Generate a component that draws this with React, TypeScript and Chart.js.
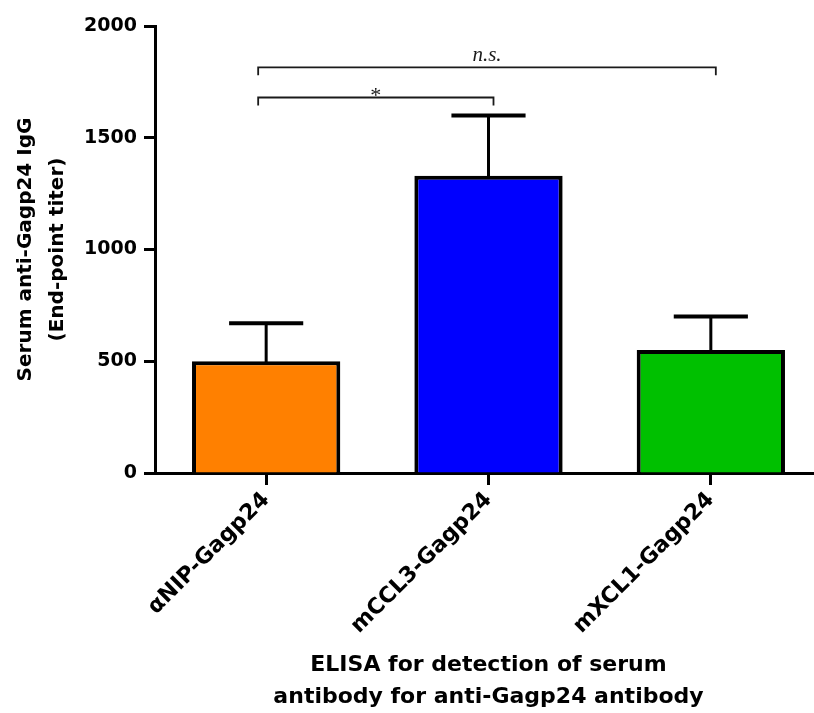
import React, { useEffect, useRef } from "react";
import { Chart, registerables } from "chart.js";
Chart.register(...registerables);

const categories = ["αNIP-Gagp24", "mCCL3-Gagp24", "mXCL1-Gagp24"];
const means = [500, 1330, 550];
const errorUpper = [670, 1600, 700];
const barColors = ["#FF8000", "#0000FF", "#00C000"];
const yMin = 0;
const yMax = 2000;
const yStep = 500;
const yTitle = ["Serum anti-Gagp24 IgG", "(End-point titer)"];
const xTitle = ["ELISA for detection of serum", "antibody for anti-Gagp24 antibody"];
const comparisonFrom = [0, 0];
const comparisonTo = [1, 2];
const comparisonLabels = ["*", "n.s."];
const comparisonLevels = [1680, 1815];

const FONT = "'DejaVu Sans', sans-serif";

const annotationPlugin = {
  id: "errorBarsAndBrackets",
  afterDatasetsDraw(chart: any) {
    const ctx = chart.ctx;
    const meta = chart.getDatasetMeta(0);
    const ys = chart.scales.y;
    const xs = chart.scales.x;
    ctx.save();
    ctx.strokeStyle = "#000";
    meta.data.forEach((bar: any, i: number) => {
      const x = bar.x;
      const top = ys.getPixelForValue(means[i]) + 2;
      const up = ys.getPixelForValue(errorUpper[i]);
      const half = bar.width / 4;
      ctx.lineWidth = 3;
      ctx.beginPath();
      ctx.moveTo(x, top);
      ctx.lineTo(x, up);
      ctx.stroke();
      ctx.lineWidth = 4;
      ctx.beginPath();
      ctx.moveTo(x - half, up);
      ctx.lineTo(x + half, up);
      ctx.stroke();
    });
    // significance brackets
    ctx.strokeStyle = "#1a1a1a";
    ctx.fillStyle = "#1a1a1a";
    ctx.lineWidth = 1.8;
    comparisonLabels.forEach((label, k) => {
      const x1 = xs.getPixelForValue(comparisonFrom[k]) - 8;
      const x2 = xs.getPixelForValue(comparisonTo[k]) + 5;
      const y = ys.getPixelForValue(comparisonLevels[k]);
      ctx.beginPath();
      ctx.moveTo(x1, y + 8);
      ctx.lineTo(x1, y);
      ctx.lineTo(x2, y);
      ctx.lineTo(x2, y + 8);
      ctx.stroke();
      ctx.textAlign = "center";
      ctx.textBaseline = "alphabetic";
      if (label === "*") {
        ctx.font = "22px 'Liberation Serif', serif";
        ctx.fillText(label, (x1 + x2) / 2, y + 4);
      } else {
        ctx.font = "italic 21px 'Liberation Serif', serif";
        ctx.fillText(label, (x1 + x2) / 2, y - 6);
      }
    });
    ctx.restore();
  },
};

export default function App() {
  const ref = useRef<HTMLCanvasElement>(null);
  useEffect(() => {
    if (!ref.current) return;
    const chart = new Chart(ref.current, {
      type: "bar",
      data: {
        labels: categories,
        datasets: [
          {
            data: means,
            backgroundColor: barColors,
            borderColor: "#000",
            borderWidth: 4,
            categoryPercentage: 1,
            barPercentage: 0.667,
          },
        ],
      },
      options: {
        animation: false,
        responsive: false,
        devicePixelRatio: 1,
        layout: { padding: { left: 0, right: 8, top: 26, bottom: 0 } },
        plugins: { legend: { display: false }, tooltip: { enabled: false } },
        scales: {
          x: {
            afterFit: (s: any) => {
              s.height = 240;
            },
            grid: {
              display: true,
              offset: false,
              drawOnChartArea: false,
              drawTicks: true,
              tickLength: 12,
              tickWidth: 3,
              tickColor: "#000",
            },
            border: { display: true, width: 3, color: "#000" },
            ticks: {
              autoSkip: false,
              maxRotation: 45,
              minRotation: 45,
              padding: 2,
              color: "#000",
              font: { family: FONT, size: 22, weight: "bold" },
            },
            title: {
              display: true,
              text: xTitle,
              color: "#000",
              font: { family: FONT, size: 22, weight: "bold", lineHeight: 1.4545 },
              padding: { top: 0, bottom: 0 },
            },
          },
          y: {
            min: yMin,
            max: yMax,
            afterFit: (s: any) => {
              s.width = 155;
            },
            grid: {
              display: true,
              drawOnChartArea: false,
              drawTicks: true,
              tickLength: 11,
              tickWidth: 3,
              tickColor: "#000",
            },
            border: { display: true, width: 3, color: "#000" },
            ticks: {
              stepSize: yStep,
              padding: 7,
              color: "#000",
              font: { family: FONT, size: 19, weight: "bold" },
              callback: (v: any) => String(v),
            },
            title: {
              display: true,
              text: yTitle,
              color: "#000",
              font: { family: FONT, size: 20, weight: "bold", lineHeight: 1.6 },
              padding: { top: 10, bottom: 0 },
            },
          },
        },
      },
      plugins: [annotationPlugin],
    });
    return () => chart.destroy();
  }, []);
  return (
    <div
      style={{
        position: "fixed",
        left: 0,
        top: 0,
        width: 814,
        height: 713,
        overflow: "hidden",
        background: "#fff",
      }}
    >
      <canvas ref={ref} width={830} height={713} style={{ display: "block" }} />
    </div>
  );
}
